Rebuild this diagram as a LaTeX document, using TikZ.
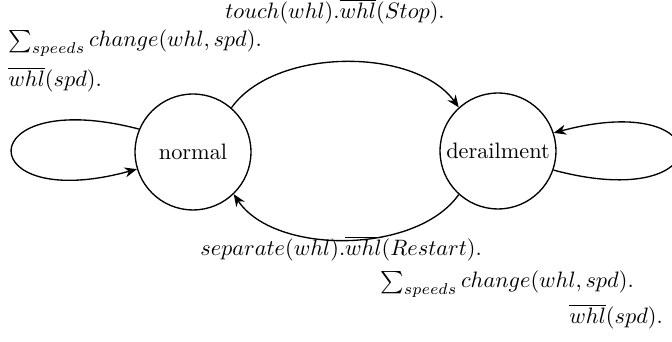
\documentclass[tikz,border=0pt]{standalone}
\usetikzlibrary{arrows.meta}
\begin{document}
\begin{tikzpicture}[x=0.4485pt,y=-0.4485pt,
  state/.style={circle,draw,semithick,minimum size=52pt,inner sep=0pt},
  edge/.style={draw,semithick,-{Stealth[length=5.5pt,width=4.5pt]}},
  lbl/.style={inner sep=0pt,anchor=base west}]
\useasboundingbox (0,0) rectangle (672,342);
\node[state] (n) at (193,152) {normal};
\node[state] (d) at (498,151) {derailment};
% transitions
\draw[edge] (n.49) .. controls (275,47) and (415,47) .. (d.132);
\draw[edge] (d.-132) .. controls (416,255) and (274,255) .. (n.-46);
\draw[edge] (n.157) .. controls (-30,85) and (-30,215) .. (n.-163);
\begin{scope}
\clip (0,0) rectangle (672,342);
\draw[edge] (d.-19) .. controls (721,215) and (721,88) .. (d.18);
\end{scope}
% labels
\node[lbl] (t) at (225,19) {$touch(whl).\overline{whl}(Stop).$};
\node[lbl] (l1) at (8,47) {$\sum_{speeds} change(whl, spd).$};
\node[lbl] (l2) at (8,87) {$\overline{whl}(spd).$};
\node[lbl] (b1) at (200,256) {$separate(whl).\overline{whl}(Restart).$};
\node[lbl] (b2) at (380,288) {$\sum_{speeds} change(whl, spd).$};
\node[lbl] (b3) at (569,324) {$\overline{whl}(spd).$};
\end{tikzpicture}
\end{document}
